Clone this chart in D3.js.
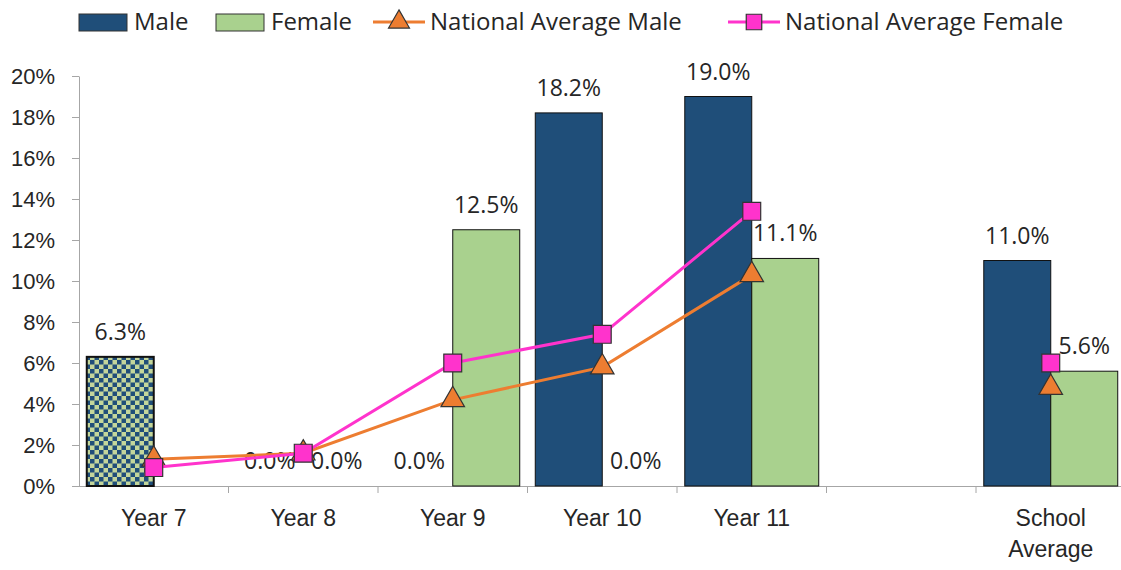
<!DOCTYPE html>
<html>
<head>
<meta charset="utf-8">
<script src="https://cdn.jsdelivr.net/npm/d3@7"></script>
<style>
  body { margin: 0; background: #fff; }
  svg { display: block; font-family: "Open Sans", sans-serif; }
</style>
</head>
<body>
<svg id="chart" width="1121" height="570"></svg>
<script>
// categories (blank slot keeps the gap before the school average)
const categories = ['Year 7', 'Year 8', 'Year 9', 'Year 10', 'Year 11', '', 'School Average']
const male = [0.063, 0, 0, 0.182, 0.190, null, 0.110]
const female = [null, 0, 0.125, 0, 0.111, null, 0.056]
const natMale = [0.013, 0.016, 0.042, 0.058, 0.103, null, 0.048]
const natFemale = [0.009, 0.016, 0.060, 0.074, 0.134, null, 0.060]
const yTicks = [0, 0.02, 0.04, 0.06, 0.08, 0.10, 0.12, 0.14, 0.16, 0.18, 0.20]
const seriesNames = ['Male', 'Female', 'National Average Male', 'National Average Female']

const navy = '#1f4e79', green = '#a9d18e', orange = '#ed7d31', pink = '#ff33cc'
const textCol = '#262626', axisCol = '#a6a6a6'

const svg = d3.select('#chart')

// pattern for the Year 7 bar
const pat = svg.append('defs').append('pattern')
  .attr('id', 'checks').attr('width', 9).attr('height', 9)
  .attr('patternUnits', 'userSpaceOnUse')
pat.append('rect').attr('width', 9).attr('height', 9).attr('fill', '#c3d69b')
pat.append('rect').attr('width', 4.5).attr('height', 4.5).attr('fill', navy)
pat.append('rect').attr('x', 4.5).attr('y', 4.5).attr('width', 4.5).attr('height', 4.5).attr('fill', navy)

// scales
const x = d3.scaleBand().domain(d3.range(categories.length)).range([79, 1125.5]).padding(0)
const sub = d3.scaleBand().domain(['m', 'f']).range([0, x.bandwidth()]).paddingInner(0).paddingOuter(0.116)
const y = d3.scaleLinear().domain([0, 0.2]).range([486, 76])

// y axis
const yAxis = svg.append('g').attr('transform', 'translate(79,0)')
  .call(d3.axisLeft(y).tickValues(yTicks).tickFormat(d3.format('.0%')).tickSize(7).tickSizeOuter(0).tickPadding(17))
yAxis.selectAll('path, line').attr('stroke', axisCol)
yAxis.selectAll('text').attr('fill', textCol).style('font-size', '22px').attr('font-family', null)

// x axis with ticks between categories
const xAxis = svg.append('g').attr('transform', 'translate(0,486)')
  .call(d3.axisBottom(x).tickSize(0).tickPadding(24).tickFormat(i => categories[i]))
xAxis.select('.domain').attr('stroke', axisCol).attr('d', 'M72,0.5H1125.5')
xAxis.selectAll('text').attr('fill', textCol).style('font-size', '23px').attr('font-family', null)
  .each(function (i) {
    const words = categories[i].split(' ')
    if (categories[i].startsWith('School')) {
      const t = d3.select(this).text(null)
      words.forEach((w, k) => t.append('tspan').attr('x', 0).attr('dy', k ? '1.35em' : '0.71em').text(w))
    }
  })
xAxis.selectAll('.sep').data(d3.range(1, categories.length + 1)).join('line')
  .attr('class', 'sep')
  .attr('x1', i => x(0) + i * x.step()).attr('x2', i => x(0) + i * x.step())
  .attr('y1', 0).attr('y2', 7).attr('stroke', axisCol)

// bars
const barData = []
categories.forEach((c, i) => {
  if (male[i] != null) barData.push({ i, k: 'm', v: male[i] })
  if (female[i] != null) barData.push({ i, k: 'f', v: female[i] })
})
svg.append('g').selectAll('rect').data(barData).join('rect')
  .attr('x', d => x(d.i) + sub(d.k))
  .attr('y', d => y(d.v))
  .attr('width', sub.bandwidth())
  .attr('height', d => y(0) - y(d.v))
  .attr('fill', d => d.i === 0 ? 'url(#checks)' : (d.k === 'm' ? navy : green))
  .attr('stroke', '#111')
  .attr('stroke-width', d => d.i === 0 ? 2 : 1)

// bar labels
svg.append('g').selectAll('text').data(barData).join('text')
  .attr('x', d => x(d.i) + sub(d.k) + sub.bandwidth() / 2)
  .attr('y', d => y(d.v) - 17)
  .attr('text-anchor', 'middle')
  .attr('fill', textCol).style('font-size', '23px')
  .text(d => d3.format('.1%')(d.v))

// national average lines
const cx = i => x(i) + x.bandwidth() / 2
function drawLine(vals, color, shape) {
  const pts = vals.map((v, i) => ({ i, v }))
  const line = d3.line().defined(d => d.v != null).x(d => cx(d.i)).y(d => y(d.v))
  svg.append('path').datum(pts).attr('d', line)
    .attr('fill', 'none').attr('stroke', color).attr('stroke-width', 3)
  svg.append('g').selectAll('path').data(pts.filter(d => d.v != null)).join('path')
    .attr('transform', d => `translate(${cx(d.i)},${y(d.v)})`)
    .attr('d', d3.symbol().type(shape).size(shape === d3.symbolSquare ? 320 : 240))
    .attr('fill', color).attr('stroke', '#333').attr('stroke-width', 1.2)
}
drawLine(natMale, orange, d3.symbolTriangle)
drawLine(natFemale, pink, d3.symbolSquare)

// legend
const legendX = [79, 216, 373, 728]
const legend = svg.append('g').attr('transform', 'translate(0,22)')
seriesNames.forEach((name, k) => {
  const g = legend.append('g').attr('transform', `translate(${legendX[k]},0)`)
  if (k < 2) {
    g.append('rect').attr('y', -8).attr('width', 48).attr('height', 17)
      .attr('fill', k === 0 ? navy : green).attr('stroke', '#333')
  } else {
    const col = k === 2 ? orange : pink
    g.append('line').attr('x1', 0).attr('x2', 52).attr('stroke', col).attr('stroke-width', 3)
    g.append('path').attr('transform', 'translate(26,0)')
      .attr('d', d3.symbol().type(k === 2 ? d3.symbolTriangle : d3.symbolSquare).size(k === 2 ? 190 : 240))
      .attr('fill', col).attr('stroke', '#333').attr('stroke-width', 1.2)
  }
  g.append('text').attr('x', k < 2 ? 55 : 57).attr('dy', '0.35em')
    .attr('fill', textCol).style('font-size', '24px').text(name)
})
</script>
</body>
</html>
